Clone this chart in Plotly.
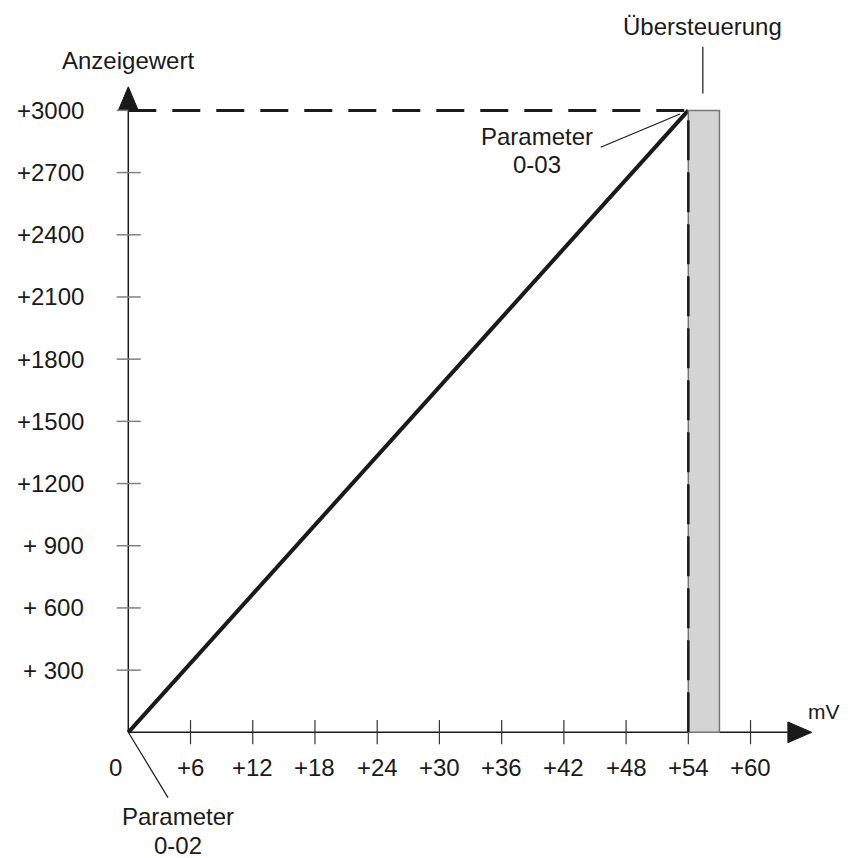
"""
Kennlinie: Anzeigewert über Eingangsspannung (mV) mit Übersteuerungsbereich.
"""

import plotly.graph_objects as go

# data
x_ticks = [6, 12, 18, 24, 30, 36, 42, 48, 54, 60]
x_labels = ["+6", "+12", "+18", "+24", "+30", "+36", "+42", "+48", "+54", "+60"]
y_ticks = [300, 600, 900, 1200, 1500, 1800, 2100, 2400, 2700, 3000]
y_labels = ["+ 300", "+ 600", "+ 900", "+1200", "+1500", "+1800",
            "+2100", "+2400", "+2700", "+3000"]
line_mv = [0, 54]
line_value = [0, 3000]
overflow_mv = [54, 57]
full_scale = 3000

INK = "#1a1a1a"
FONT = "Liberation Sans"

fig = go.Figure()

# axes
fig.add_shape(type="line", x0=0, y0=0, x1=0, y1=full_scale,
              line=dict(color=INK, width=1.5))
fig.add_shape(type="line", x0=0, y0=0, x1=63.6, y1=0,
              line=dict(color=INK, width=1.5))
fig.add_shape(type="path", path="M -0.96,3000 L 0,3114 L 0.96,3000 Z",
              fillcolor=INK, line=dict(color=INK, width=1))
fig.add_shape(type="path", path="M 63.6,-50 L 65.9,0 L 63.6,50 Z",
              fillcolor=INK, line=dict(color=INK, width=1))

# tick marks
for v in y_ticks:
    fig.add_shape(type="line", x0=-1.12, x1=1.2, y0=v, y1=v,
                  line=dict(color="#808080", width=1.5))
for v in x_ticks:
    fig.add_shape(type="line", x0=v, x1=v, y0=-58, y1=59,
                  line=dict(color="#333333", width=1.2))

# overflow region
fig.add_shape(type="rect", x0=overflow_mv[0], x1=overflow_mv[1], y0=0, y1=full_scale,
              fillcolor="#d4d4d4", line=dict(color="#777777", width=1.5))

# dashed guides
fig.add_shape(type="line", x0=0, x1=line_mv[1], y0=full_scale, y1=full_scale,
              line=dict(color=INK, width=3, dash="28px,16px"))
fig.add_shape(type="line", x0=line_mv[1], x1=line_mv[1], y0=0, y1=full_scale,
              line=dict(color=INK, width=2.5, dash="40px,12px"))

# characteristic line
fig.add_trace(go.Scatter(x=line_mv, y=line_value, mode="lines",
                         line=dict(color=INK, width=4), hoverinfo="skip"))

# leader lines
fig.add_shape(type="line", x0=0, y0=0, x1=3.83, y1=-315,
              line=dict(color=INK, width=1.2))
fig.add_shape(type="line", x0=45.55, y0=2822, x1=53.2, y1=2983,
              line=dict(color=INK, width=1.2))
fig.add_shape(type="line", x0=55.4, y0=3082, x1=55.4, y1=3307,
              line=dict(color=INK, width=1.2))

big = dict(family=FONT, size=24, color=INK)
word = dict(family=FONT, size=24, color=INK)

for v, t in zip(y_ticks, y_labels):
    fig.add_annotation(x=-4.08, y=v, text=t, showarrow=False,
                       xanchor="right", yanchor="middle", font=big)
fig.add_annotation(x=-1.21, y=-172, text="0", showarrow=False, font=big)
for v, t in zip(x_ticks, x_labels):
    fig.add_annotation(x=v, y=-172, text=t, showarrow=False, font=big)

fig.add_annotation(x=0, y=3243, text="Anzeigewert", showarrow=False, font=word)
fig.add_annotation(x=67.1, y=100, text="mV", showarrow=False,
                   font=dict(family=FONT, size=21, color=INK))
fig.add_annotation(x=55.4, y=3407, text="Übersteuerung", showarrow=False, font=word)
fig.add_annotation(x=39.4, y=2873, text="Parameter", showarrow=False, font=word)
fig.add_annotation(x=39.4, y=2737, text="0-03", showarrow=False, font=word)
fig.add_annotation(x=4.82, y=-408, text="Parameter", showarrow=False, font=word)
fig.add_annotation(x=4.82, y=-544, text="0-02", showarrow=False, font=word)

# page adds an 8px body margin, so the figure is 8px smaller than the window
fig.update_xaxes(range=[-11.60, 69.59], visible=False, fixedrange=True)
fig.update_yaxes(range=[-606.4, 3494.0], visible=False, fixedrange=True)
fig.update_layout(
    width=842, height=850,
    margin=dict(l=0, r=0, t=0, b=0),
    showlegend=False,
    plot_bgcolor="white", paper_bgcolor="white",
)

fig.write_html("out.html")
